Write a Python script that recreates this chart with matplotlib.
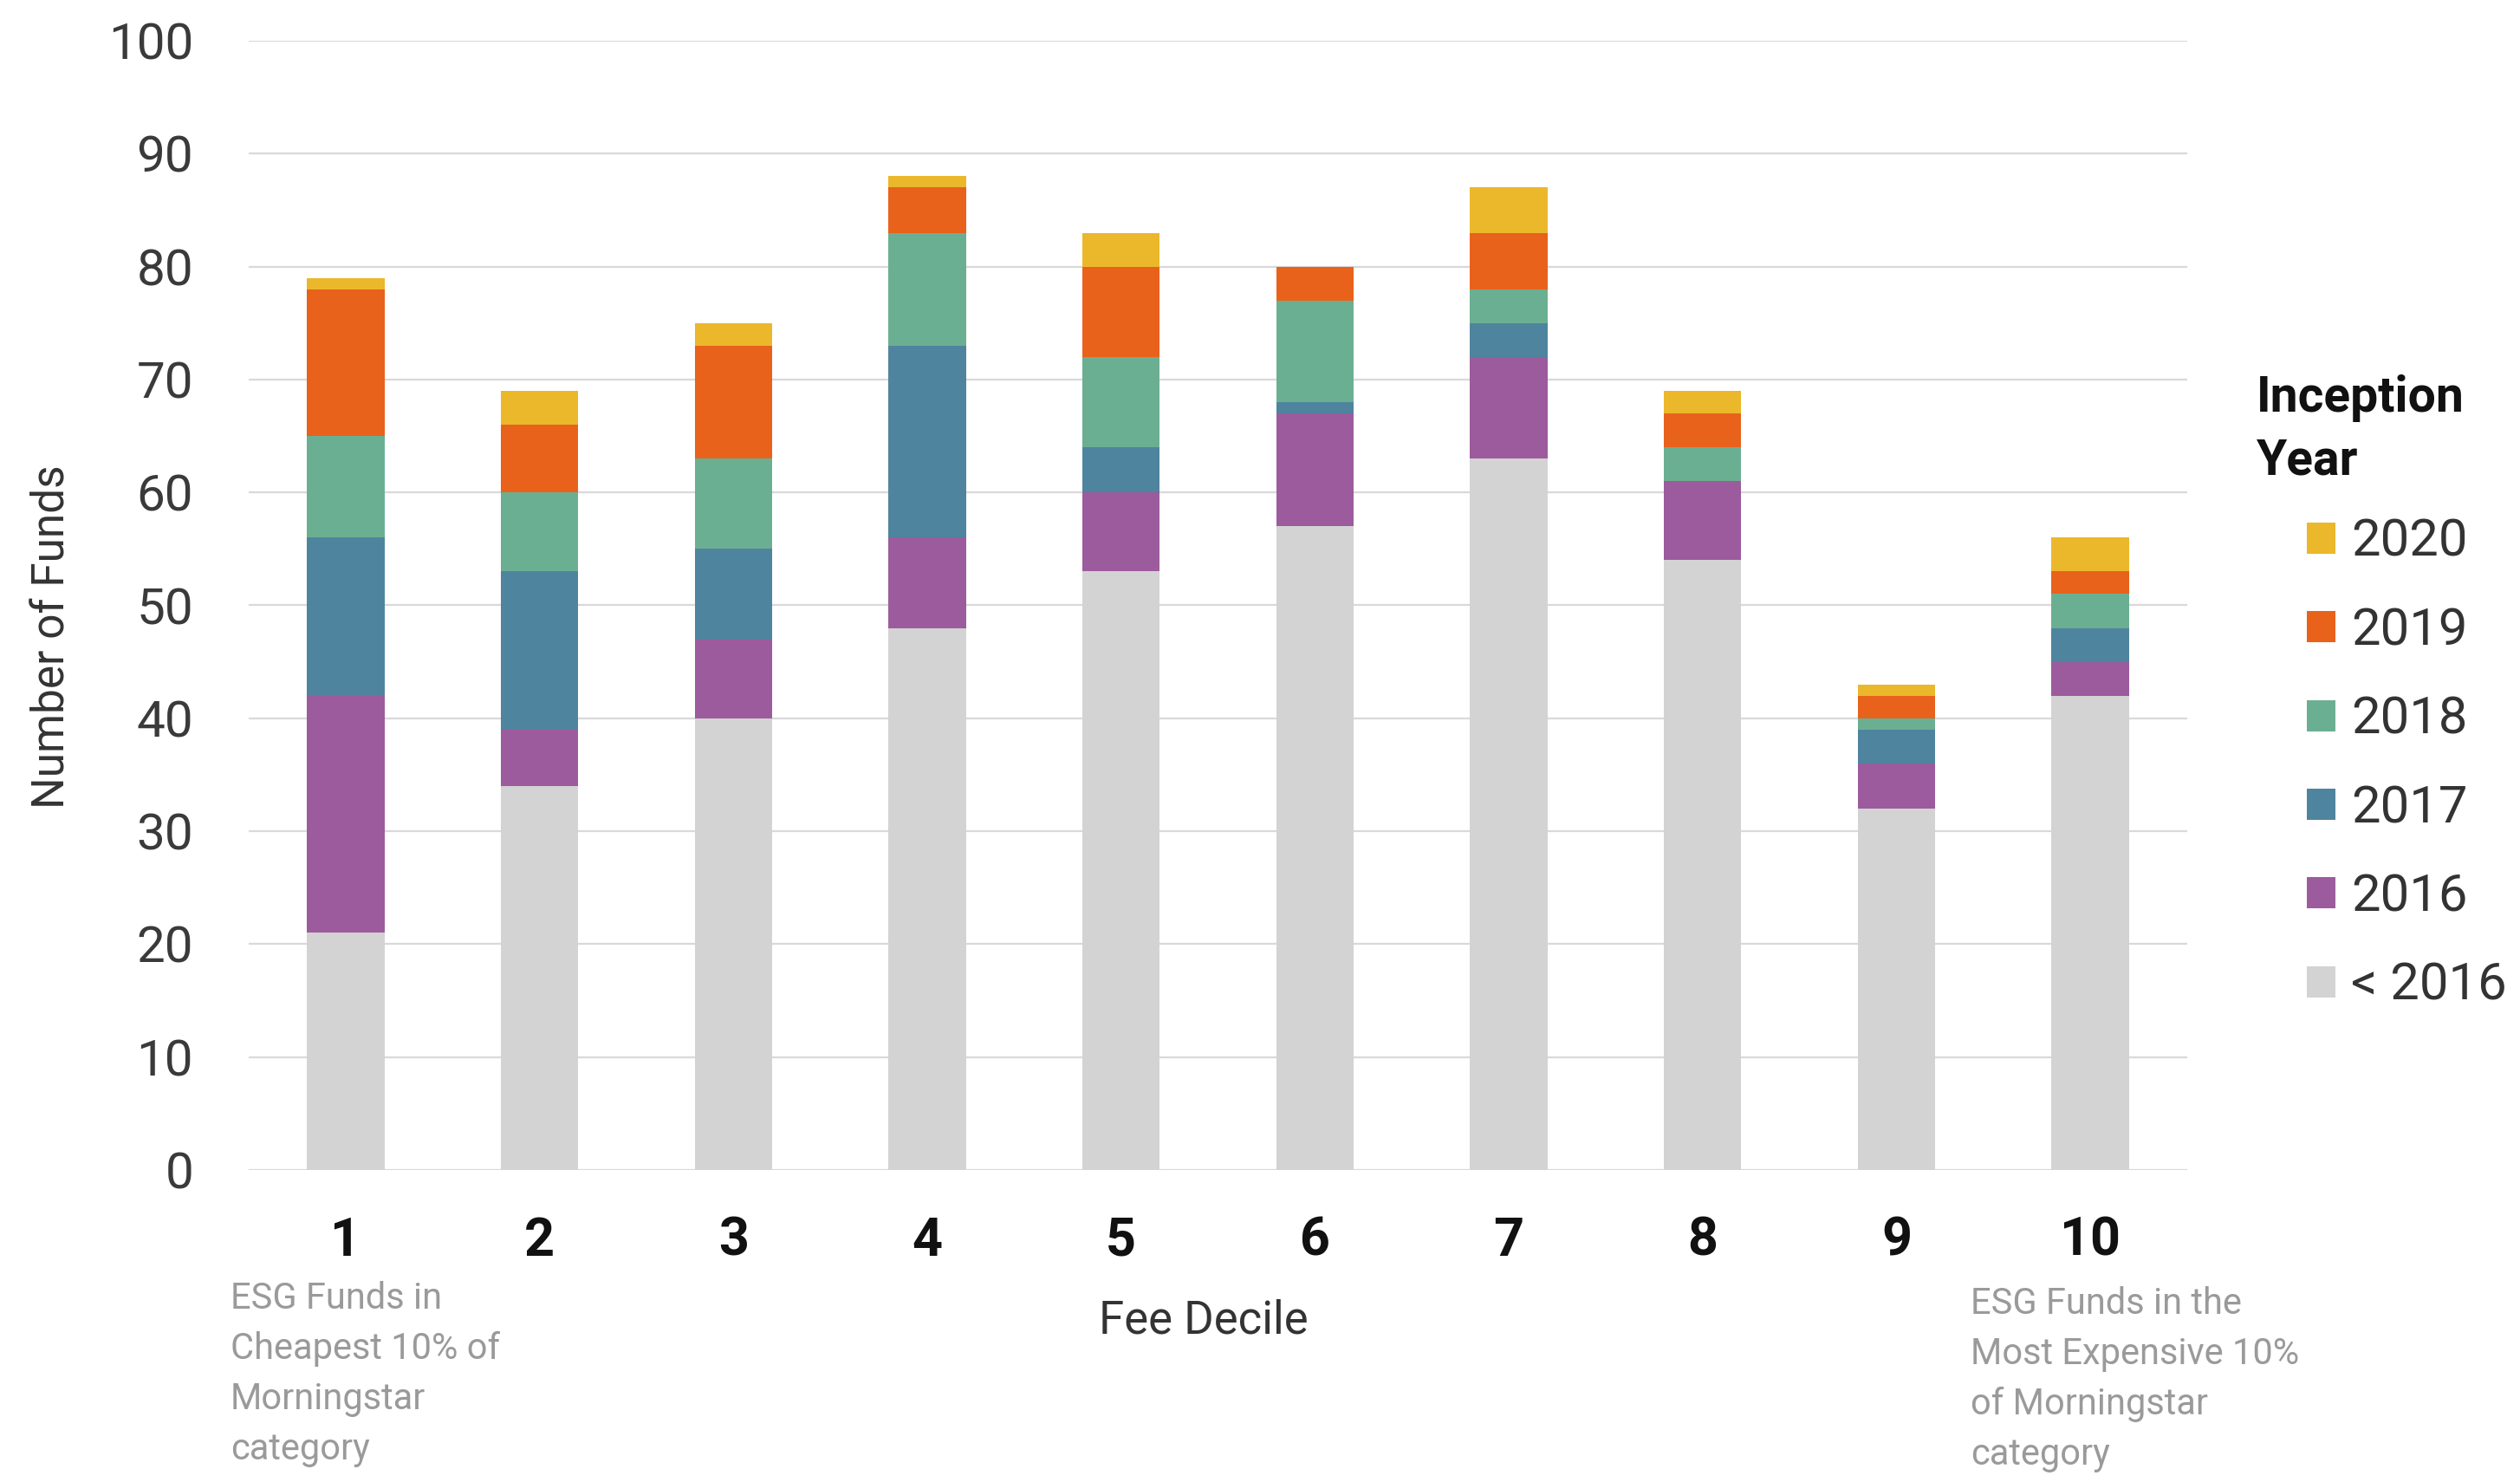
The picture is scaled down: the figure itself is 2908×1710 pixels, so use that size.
import matplotlib
matplotlib.use("Agg")
import matplotlib.pyplot as plt
from matplotlib import font_manager
from matplotlib.patches import Patch
import numpy as np

# fee deciles and fund counts by inception year (stacked bottom -> top)
deciles = ["1", "2", "3", "4", "5", "6", "7", "8", "9", "10"]
pre2016 = [21, 34, 40, 48, 53, 57, 63, 54, 32, 42]
y2016 = [21, 5, 7, 8, 7, 10, 9, 7, 4, 3]
y2017 = [14, 14, 8, 17, 4, 1, 3, 0, 3, 3]
y2018 = [9, 7, 8, 10, 8, 9, 3, 3, 1, 3]
y2019 = [13, 6, 10, 4, 8, 3, 5, 3, 2, 2]
y2020 = [1, 3, 2, 1, 3, 0, 4, 2, 1, 3]

labels = ["< 2016", "2016", "2017", "2018", "2019", "2020"]
colors = ["#D3D3D3", "#9C5B9D", "#4F849E", "#6BAF92", "#E8621C", "#EBB72B"]


def pick_font():
    for name in ["Liberation Sans Narrow", "Roboto", "DejaVu Sans"]:
        try:
            font_manager.findfont(name, fallback_to_default=False)
            return name
        except Exception:
            pass
    return "DejaVu Sans"


FONT = pick_font()
plt.rcParams["font.family"] = FONT

fig = plt.figure(figsize=(29.08, 17.10), dpi=100)
ax = fig.add_axes([287 / 2908, 1 - 1350 / 1710, (2524 - 287) / 2908, (1350 - 47) / 1710])

x = np.arange(1, len(deciles) + 1)
series = [pre2016, y2016, y2017, y2018, y2019, y2020]
bottom = np.zeros(len(deciles))
for vals, c, lab in zip(series, colors, labels):
    ax.bar(x, vals, width=0.4, bottom=bottom, color=c, label=lab, zorder=3)
    bottom += np.array(vals)

ax.set_xlim(0.5, 10.5)
ax.set_ylim(0, 100)
ax.set_yticks(np.arange(0, 101, 10))
ax.yaxis.grid(True, color="#D9D9D9", linewidth=1.6, zorder=0)
ax.set_axisbelow(True)
for s in ax.spines.values():
    s.set_visible(False)

ax.set_xticks(x)
ax.set_xticklabels(deciles, fontsize=44, fontweight="bold", color="#111111")
ax.tick_params(axis="x", length=0, pad=38)
ax.tick_params(axis="y", length=0, pad=46, labelsize=42, labelcolor="#3A3A3A")

fig.text(61 / 2908, 1 - 735 / 1710, "Number of Funds", rotation=90,
         ha="center", va="center", fontsize=37, color="#333333")
fig.text(1389 / 2908, 1 - 1524 / 1710, "Fee Decile",
         ha="center", va="center", fontsize=38, color="#333333")

fig.text(266 / 2908, 1 - 1478 / 1710,
         "ESG Funds in\nCheapest 10% of\nMorningstar\ncategory",
         ha="left", va="top", fontsize=30, color="#9A9A9A", linespacing=1.53)
fig.text(2274 / 2908, 1 - 1484 / 1710,
         "ESG Funds in the\nMost Expensive 10%\nof Morningstar\ncategory",
         ha="left", va="top", fontsize=30, color="#9A9A9A", linespacing=1.53)

# legend
fig.text(2604 / 2908, 1 - 432 / 1710, "Inception\nYear", ha="left", va="top",
         fontsize=41, fontweight="bold", color="#111111", linespacing=1.4)
handles = [Patch(facecolor=c, edgecolor="none") for c in colors][::-1]
leg = fig.legend(handles, labels[::-1], loc="upper left",
                 bbox_to_anchor=(2662 / 2908, 1 - 597 / 1710),
                 frameon=False, fontsize=43, handlelength=0.55, handleheight=0.55,
                 handletextpad=0.3, labelspacing=0.76, borderpad=0, borderaxespad=0)
for t in leg.get_texts():
    t.set_color("#333333")

fig.savefig("out.png", dpi=100)
